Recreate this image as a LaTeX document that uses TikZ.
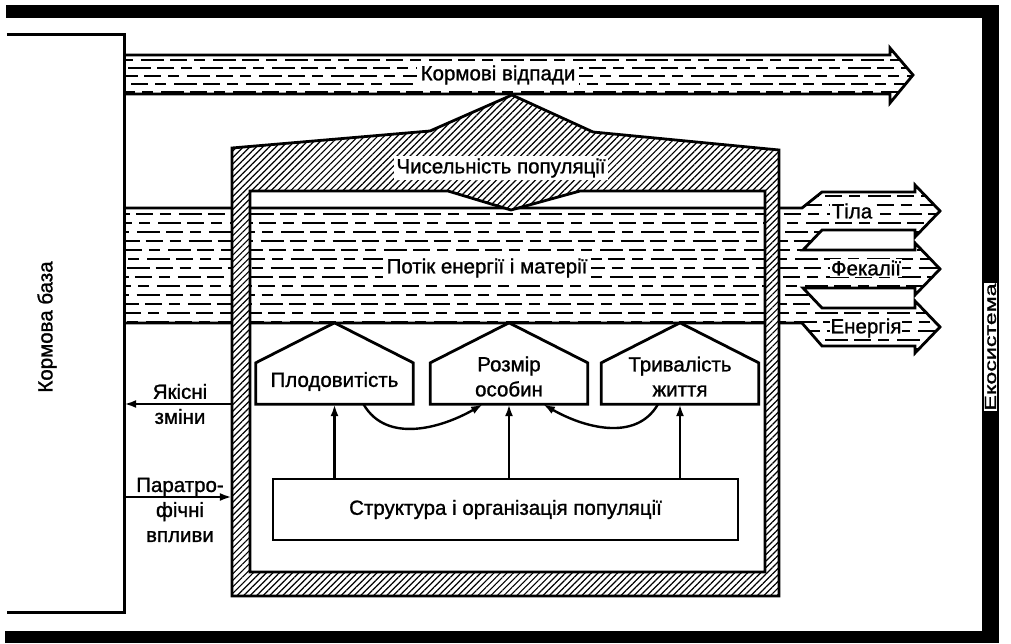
\documentclass[tikz,border=0pt]{standalone}
\usepackage{fontspec}
\setmainfont{Liberation Sans}[FakeBold=1.2]
\usetikzlibrary{arrows.meta, patterns.meta}

\tikzset{
  outline/.style={line width=2.8pt, line join=miter},
  dashrow/.style={line width=1.7pt, dash pattern=on 17pt off 7pt on 11pt off 8pt on 23pt off 6pt},
  lbl/.style={font=\fontsize{20.5}{25}\selectfont, inner sep=2pt, align=center},
  cutout/.style={lbl, fill=white, inner sep=4pt},
  trait/.style={minimum width=157pt, minimum height=41pt, inner sep=0pt},
  conn/.style={line width=2.4pt, -{Latex[length=12pt,width=8pt]}},
  hatched/.style={pattern={Lines[angle=45,distance=4.6pt,line width=1.2pt]}},
}

\begin{document}
\begin{tikzpicture}[x=1pt, y=-1pt]
\useasboundingbox (0,0) rectangle (1011,644);

% food waste arrow
\begin{scope}
  \clip (124,55) -- (890,55) -- (890,48) -- (913,75) -- (890,103) -- (890,94) -- (124,94) -- cycle;
  \foreach \r [count=\i, evaluate=\i as \ph using \i*13] in {52,60,68,76,84,92,100}
    \draw[dashrow, dash phase=\ph pt] (124,\r) -- (915,\r);
\end{scope}
\draw[outline] (124,55) -- (890,55) -- (890,48) -- (913,75) -- (890,103) -- (890,94) -- (124,94);
\node[cutout] (waste) at (498,75) {Кормові відпади};

% energy and matter flow with the three outputs
\begin{scope}
  \clip (124,208) -- (802,208) -- (822,192) -- (915,192) -- (915,185) -- (940,211) -- (915,237) -- (915,230)
    -- (822,230) -- (803,250) -- (915,250) -- (915,243) -- (940,269) -- (915,295) -- (915,288)
    -- (803,288) -- (822,308) -- (915,308) -- (915,301) -- (940,327) -- (915,353) -- (915,346)
    -- (822,346) -- (802,323) -- (124,323) -- cycle;
  \foreach \r [evaluate=\r as \ph using \r*2.3] in {187,196,...,352}
    \draw[dashrow, dash phase=\ph pt] (124,\r) -- (945,\r);
\end{scope}
\draw[outline] (124,208) -- (802,208) -- (822,192) -- (915,192) -- (915,185) -- (940,211) -- (915,237) -- (915,230)
    -- (822,230) -- (803,250) -- (915,250) -- (915,243) -- (940,269) -- (915,295) -- (915,288)
    -- (803,288) -- (822,308) -- (915,308) -- (915,301) -- (940,327) -- (915,353) -- (915,346)
    -- (822,346) -- (802,323) -- (124,323);

% population wall
\fill[white, even odd rule] (232,596) -- (232,148) -- (430,131) -- (512,95) -- (593,132) -- (779,150) -- (779,596) -- cycle
  (250,572) -- (250,191) -- (448,191) -- (511,210) -- (580,191) -- (765,191) -- (765,572) -- cycle;
\path[hatched, even odd rule] (232,596) -- (232,148) -- (430,131) -- (512,95) -- (593,132) -- (779,150) -- (779,596) -- cycle
  (250,572) -- (250,191) -- (448,191) -- (511,210) -- (580,191) -- (765,191) -- (765,572) -- cycle;
\draw[outline] (232,596) -- (232,148) -- (430,131) -- (512,95) -- (593,132) -- (779,150) -- (779,596) -- cycle
  (250,572) -- (250,191) -- (448,191) -- (511,210) -- (580,191) -- (765,191) -- (765,572) -- cycle;
\node[trait, minimum width=547pt, minimum height=448pt] (pop) at (505.5,372) {};

\node[cutout, inner sep=2pt] (count) at (501,168) {Чисельність популяції};
\node[cutout] (flow) at (487,268) {Потік енергії і матерії};
\node[cutout, inner sep=2pt] (bodies) at (852,211) {Тіла};
\node[cutout, inner sep=1pt] (faeces) at (866,268) {Фекалії};
\node[cutout, inner sep=1pt] (energy) at (866,328) {Енергія};

% traits
\node[trait] (fert) at (334.5,383.5) {};
\node[trait] (size) at (509,383.5) {};
\node[trait] (life) at (680,383.5) {};
\foreach \n in {fert,size,life}
  \draw[outline] (\n.south west) -- (\n.north west) -- ([yshift=40pt]\n.north) -- (\n.north east) -- (\n.south east) -- cycle;
\node[lbl] (fertlbl) at ([yshift=2pt]fert.center) {Плодовитість};
\node[lbl] (sizelbl) at ([yshift=7pt]size.center) {Розмір\\особин};
\node[lbl] (lifelbl) at ([yshift=7pt]life.center) {Тривалість\\життя};

\node[lbl, draw, outline, minimum width=465pt, minimum height=61pt] (struct) at (505.5,509.5) {Структура і організація популяції};

\foreach \n in {fert,size,life}
  \draw[conn] (\n.south |- struct.north) -- (\n.south);
\draw[conn] ([xshift=29pt]fert.south) to[out=-60, in=-150] ([xshift=-26pt]size.south);
\draw[conn] ([xshift=-22pt]life.south) to[out=-120, in=-30] ([xshift=34pt]size.south);

% food base
\node[trait, minimum width=117pt, minimum height=577pt] (base) at (65.5,323.5) {};
\draw[outline] (base.north west) -- (base.north east) -- (base.south east) -- (base.south west);
\node[lbl, rotate=90] (baselbl) at (47,327) {Кормова база};

\node[lbl] (qual) at (180,404) {Якісні\\зміни};
\draw[conn] (qual.center -| pop.west) -- (qual.center -| base.east);
\node[lbl] (para) at (180,510) {Паратро-\\фічні\\впливи};
\draw[conn] ([yshift=13pt]para.center -| base.east) -- ([yshift=13pt]para.center -| pop.west);

% ecosystem frame
\fill (6,5) rectangle (999,18);
\fill (982,5) rectangle (999,643);
\fill (5,631) rectangle (999,643);
\node[draw, fill=white, line width=1pt, rotate=90, inner sep=1pt, font=\fontsize{16}{16}\selectfont] (eco) at (990.5,347) {\scalebox{1.45}[1]{Екосистема}};

\end{tikzpicture}
\end{document}
